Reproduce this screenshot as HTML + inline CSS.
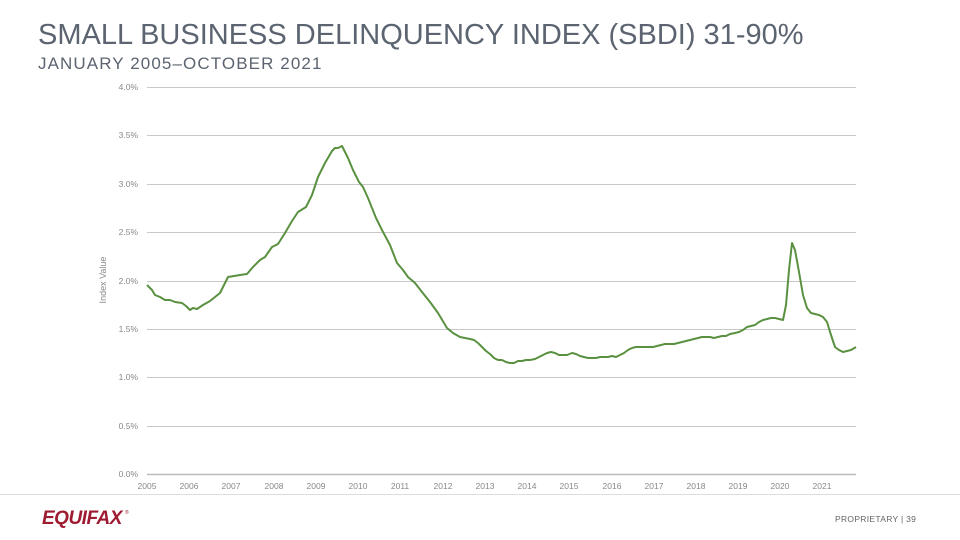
<!DOCTYPE html>
<html><head><meta charset="utf-8"><style>
body{margin:0;width:960px;height:540px;background:#fff;overflow:hidden;font-family:"Liberation Sans",sans-serif}
.t{position:absolute;left:38px;top:19px;font-size:29px;color:#5b6470;letter-spacing:0px}
.s{position:absolute;left:38px;top:54px;font-size:17px;color:#5b6470;letter-spacing:1.1px}
</style></head><body>
<div class="t">SMALL BUSINESS DELINQUENCY INDEX (SBDI) 31-90%</div>
<div class="s">JANUARY 2005–OCTOBER 2021</div>
<svg width="960" height="540" style="position:absolute;left:0;top:0">
<g stroke="#c8c8c8" stroke-width="1">
<line x1="147" x2="856" y1="87.5" y2="87.5"/><line x1="147" x2="856" y1="135.5" y2="135.5"/>
<line x1="147" x2="856" y1="184.5" y2="184.5"/><line x1="147" x2="856" y1="232.5" y2="232.5"/>
<line x1="147" x2="856" y1="281.5" y2="281.5"/><line x1="147" x2="856" y1="329.5" y2="329.5"/>
<line x1="147" x2="856" y1="377.5" y2="377.5"/><line x1="147" x2="856" y1="426.5" y2="426.5"/>
<line x1="147" x2="856" y1="474.5" y2="474.5" stroke="#bbb" stroke-width="1.5"/>
</g>
<g font-size="8.5" fill="#888" text-anchor="end">
<text x="138" y="90">4.0%</text><text x="138" y="138">3.5%</text><text x="138" y="187">3.0%</text>
<text x="138" y="235">2.5%</text><text x="138" y="284">2.0%</text><text x="138" y="332">1.5%</text>
<text x="138" y="380">1.0%</text><text x="138" y="429">0.5%</text><text x="138" y="477">0.0%</text>
</g>
<g font-size="8.5" fill="#888" text-anchor="middle">
<text x="147" y="489">2005</text><text x="189" y="489">2006</text><text x="231" y="489">2007</text><text x="274" y="489">2008</text><text x="316" y="489">2009</text><text x="358" y="489">2010</text><text x="400" y="489">2011</text><text x="443" y="489">2012</text><text x="485" y="489">2013</text><text x="527" y="489">2014</text><text x="569" y="489">2015</text><text x="612" y="489">2016</text><text x="654" y="489">2017</text><text x="696" y="489">2018</text><text x="738" y="489">2019</text><text x="780" y="489">2020</text><text x="822" y="489">2021</text>
</g>
<text x="106" y="280" font-size="9" fill="#888" text-anchor="middle" transform="rotate(-90 106 280)">Index Value</text>
<polyline fill="none" stroke="#5a9140" stroke-width="2" stroke-linejoin="round" points="147,285 152,290 155,295 160,297 165,300 170,300 175,302 182,303 186,306 190,310 193,308 197,309 203,305 210,301 215,297 220,293 228,277 240,275 247,274 253,267 260,260 265,257 272,247 278,244 285,233 292,221 298,212 306,207 312,195 318,177 325,163 332,151 335,148 338,148 342,146 348,158 353,170 359,182 363,187 368,198 376,218 383,232 390,245 397,263 403,270 408,277 415,283 422,292 430,302 438,313 447,328 453,333 460,337 465,338 470,339 474,340 478,343 482,347 486,351 490,354 494,358 498,360 502,360 506,362 510,363 514,363 518,361 522,361 526,360 530,360 535,359 539,357 543,355 547,353 551,352 555,353 559,355 563,355 567,355 572,353 576,354 580,356 584,357 588,358 592,358 596,358 600,357 604,357 608,357 612,356 616,357 620,355 624,353 628,350 632,348 636,347 640,347 645,347 649,347 653,347 657,346 661,345 665,344 670,344 674,344 678,343 682,342 686,341 690,340 694,339 698,338 702,337 706,337 710,337 714,338 718,337 722,336 726,336 730,334 735,333 739,332 743,330 747,327 751,326 755,325 759,322 763,320 767,319 771,318 775,318 779,319 783,320 786,305 789,270 792,243 795,250 799,272 803,295 807,308 811,313 815,314 819,315 823,317 827,322 831,335 835,347 839,350 843,352 847,351 851,350 856,347"/>
<line x1="0" x2="960" y1="494.5" y2="494.5" stroke="#ddd"/>
<text x="42" y="524" font-size="19" font-weight="bold" font-style="italic" fill="#9e1b32" letter-spacing="-0.5">EQUIFAX</text>
<text x="125" y="514" font-size="5" fill="#9e1b32">®</text>
<text x="835" y="522" font-size="8.5" fill="#666" letter-spacing="0.3">PROPRIETARY  |  39</text>
</svg>
</body></html>
